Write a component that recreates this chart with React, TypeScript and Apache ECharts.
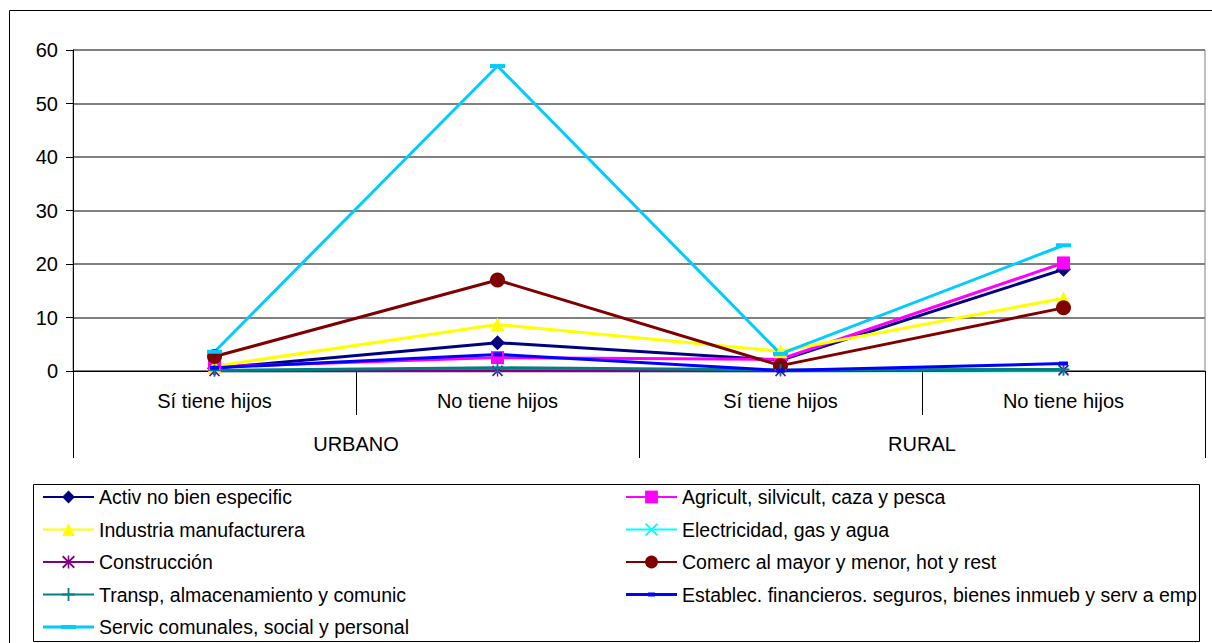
import React, { useEffect, useRef } from "react";
import * as echarts from "echarts";

const categories = ["Sí tiene hijos", "No tiene hijos", "Sí tiene hijos", "No tiene hijos"];
const groups = ["URBANO", "RURAL"];
const yTicks = { min: 0, max: 60, interval: 10 };

const activ = [0.5, 5.3, 2.0, 19.0];
const agric = [0.8, 2.5, 2.2, 20.2];
const indus = [0.9, 8.7, 3.7, 13.6];
const elect = [0.0, 0.1, 0.0, 0.0];
const constr = [0.0, 0.0, 0.0, 0.2];
const comerc = [2.7, 17.0, 1.0, 11.8];
const transp = [0.1, 0.6, 0.2, 0.3];
const estab = [0.6, 3.1, 0.1, 1.4];
const servic = [3.6, 57.0, 3.2, 23.5];

const names = [
  "Activ no bien especific",
  "Agricult, silvicult, caza y pesca",
  "Industria manufacturera",
  "Electricidad, gas y agua",
  "Construcción",
  "Comerc al mayor y menor, hot y rest",
  "Transp, almacenamiento y comunic",
  "Establec. financieros. seguros, bienes inmueb y serv a emp",
  "Servic comunales, social y personal",
];

const X_PATH = "path://M0,1L1,0L5,4L9,0L10,1L6,5L10,9L9,10L5,6L1,10L0,9L4,5Z";
const STAR_PATH =
  "path://M0,1L1,0L5,4L9,0L10,1L6,5L10,9L9,10L5,6L1,10L0,9L4,5Z M4.4,0L5.6,0L5.6,10L4.4,10Z";
const PLUS_PATH = "path://M4.3,0H5.7V4.3H10V5.7H5.7V10H4.3V5.7H0V4.3H4.3Z";
// legend icons (51 x 16 box): line plus a dash marker
const SERVIC_ICON = "path://M0,0Z M0,6.5H51V9.5H0Z M18,6H33V10H18Z M51,16Z";
const ESTAB_ICON = "path://M0,0Z M0,6.5H51V9.5H0Z M22,6H29V10H22Z M51,16Z";

const FONT = "'Liberation Sans', Arial, sans-serif";

export default function App() {
  const ref = useRef<HTMLDivElement>(null);
  useEffect(() => {
    if (!ref.current) return;
    const chart = echarts.init(ref.current, null, { renderer: "svg" });
    const mk = (
      name: string,
      data: number[],
      color: string,
      symbol: string,
      symbolSize: number | number[]
    ) => ({
      name,
      type: "line",
      data,
      xAxisIndex: 0,
      symbol,
      symbolSize,
      showAllSymbol: true,
      lineStyle: { color, width: 3 },
      itemStyle: { color, borderColor: color, borderWidth: 0 },
      emphasis: { disabled: true },
    });
    const series = [
      mk(names[0], activ, "#000080", "diamond", 15),
      mk(names[1], agric, "#FF00FF", "rect", 13),
      mk(names[2], indus, "#FFFF00", "triangle", 14),
      mk(names[3], elect, "#00FFFF", X_PATH, 11),
      mk(names[4], constr, "#800080", STAR_PATH, 11),
      mk(names[5], comerc, "#800000", "circle", 15),
      mk(names[6], transp, "#008080", PLUS_PATH, 12),
      mk(names[7], estab, "#0000FF", "rect", [9, 4]),
      mk(names[8], servic, "#00CCFF", "rect", [15, 4]),
    ];
    const legendCommon = {
      orient: "vertical",
      top: 487,
      padding: 0,
      itemWidth: 51,
      itemHeight: 16,
      itemGap: 12.5,
      selectedMode: false,
      textStyle: { fontSize: 19.5, fontFamily: FONT, color: "#000", lineHeight: 20 },
    };
    const axisText = { fontSize: 20, color: "#000", fontFamily: FONT };
    chart.setOption({
      animation: false,
      textStyle: { fontFamily: FONT },
      grid: {
        left: 73,
        right: 7,
        top: 50,
        bottom: 272,
        show: true,
        borderColor: "#808080",
        borderWidth: 1,
        backgroundColor: "transparent",
      },
      legend: [
        {
          ...legendCommon,
          left: 42,
          data: [names[0], names[2], names[4], names[6], { name: names[8], icon: SERVIC_ICON }],
        },
        {
          ...legendCommon,
          left: 625,
          data: [names[1], names[3], names[5], { name: names[7], icon: ESTAB_ICON }],
        },
      ],
      xAxis: [
        {
          type: "category",
          data: categories,
          boundaryGap: true,
          position: "bottom",
          axisLine: { show: true, lineStyle: { color: "#000", width: 1 } },
          axisTick: { show: true, length: 44, lineStyle: { color: "#000" } },
          axisLabel: { ...axisText, margin: 20 },
          splitLine: { show: false },
        },
        {
          type: "category",
          data: groups,
          boundaryGap: true,
          position: "bottom",
          axisLine: { show: false },
          axisTick: { show: true, length: 87, lineStyle: { color: "#000" } },
          axisLabel: { ...axisText, margin: 63 },
          splitLine: { show: false },
        },
      ],
      yAxis: {
        type: "value",
        min: yTicks.min,
        max: yTicks.max,
        interval: yTicks.interval,
        axisLine: { show: true, lineStyle: { color: "#000", width: 1 } },
        axisTick: { show: true, length: 7, lineStyle: { color: "#000" } },
        axisLabel: { ...axisText, margin: 15 },
        splitLine: { show: true, lineStyle: { color: "#808080", width: 2 } },
      },
      graphic: [
        {
          type: "rect",
          shape: { x: 9.5, y: 10.5, width: 1400, height: 800 },
          style: { fill: "none", stroke: "#000", lineWidth: 1 },
          silent: true,
          z: -10,
        },
        {
          type: "rect",
          shape: { x: 33.5, y: 484.5, width: 1166, height: 157 },
          style: { fill: "none", stroke: "#000", lineWidth: 1 },
          silent: true,
          z: -10,
        },
      ],
      series,
    });
    return () => chart.dispose();
  }, []);
  return (
    <div
      ref={ref}
      style={{ position: "absolute", left: 0, top: 0, width: 1212, height: 643, background: "#fff" }}
    />
  );
}
